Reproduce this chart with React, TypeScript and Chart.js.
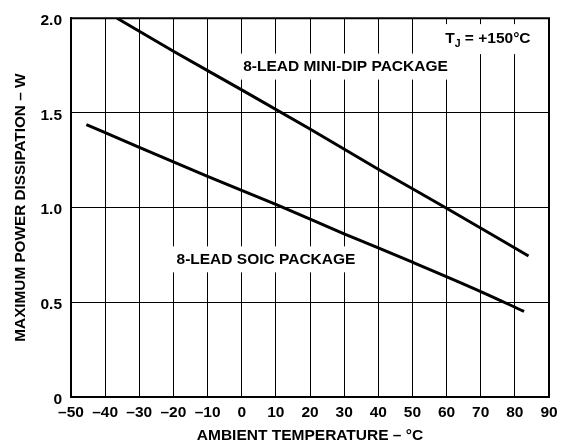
import React, { useEffect, useRef } from "react";
import { Chart, registerables } from "chart.js";

Chart.register(...registerables);

const X_MIN = -50;
const X_MAX = 90;
const X_STEP = 10;
const Y_MIN = 0;
const Y_MAX = 2;
const Y_STEP = 0.5;

const miniDipTemp = [-36.5, -20, 0, 20, 40, 60, 84];
const miniDipPower = [2.0, 1.826, 1.622, 1.415, 1.203, 0.997, 0.745];

const soicTemp = [-45.5, -30, -10, 10, 30, 50, 70, 82.7];
const soicPower = [1.439, 1.318, 1.165, 1.017, 0.862, 0.712, 0.557, 0.452];

const seriesNames = ["8-LEAD MINI-DIP PACKAGE", "8-LEAD SOIC PACKAGE"];
const labelTemps = [30.4, 7.1];
const labelPowers = [1.745, 0.727];

const tjTemp = 72.1;
const tjPower = 1.89;

const xTitle = "AMBIENT TEMPERATURE – °C";
const yTitle = "MAXIMUM POWER DISSIPATION – W";

const FONT = "'Liberation Sans', Arial, Helvetica, sans-serif";

const annotationPlugin = {
  id: "annotations",
  beforeDatasetsDraw(chart: any) {
    const { ctx, chartArea, scales } = chart;
    const xs = scales.x;
    const ys = scales.y;
    ctx.save();
    ctx.strokeStyle = "#000";
    ctx.lineWidth = 2;
    ctx.beginPath();
    ctx.moveTo(chartArea.left, chartArea.top);
    ctx.lineTo(chartArea.right, chartArea.top);
    ctx.lineTo(chartArea.right, chartArea.bottom);
    ctx.stroke();

    ctx.font = `bold 15.5px ${FONT}`;
    ctx.textBaseline = "middle";
    ctx.textAlign = "center";
    for (let i = 0; i < seriesNames.length; i++) {
      const px = xs.getPixelForValue(labelTemps[i]);
      const py = ys.getPixelForValue(labelPowers[i]);
      const w = ctx.measureText(seriesNames[i]).width;
      ctx.fillStyle = "#fff";
      ctx.fillRect(px - w / 2 - 4, py - 13, w + 8, 26);
      ctx.fillStyle = "#000";
      ctx.fillText(seriesNames[i], px, py);
    }

    const tx = xs.getPixelForValue(tjTemp);
    const ty = ys.getPixelForValue(tjPower);
    const mainFont = `bold 15.5px ${FONT}`;
    const subFont = `bold 10.5px ${FONT}`;
    ctx.font = mainFont;
    const wT = ctx.measureText("T").width;
    const rest = " = +150°C";
    const wRest = ctx.measureText(rest).width;
    ctx.font = subFont;
    const wJ = ctx.measureText("J").width;
    const total = wT + wJ + wRest;
    ctx.fillStyle = "#fff";
    ctx.fillRect(tx - total / 2 - 4, ty - 15, total + 8, 30);
    ctx.fillStyle = "#000";
    ctx.textAlign = "left";
    let cx = tx - total / 2;
    ctx.font = mainFont;
    ctx.fillText("T", cx, ty);
    cx += wT;
    ctx.font = subFont;
    ctx.fillText("J", cx, ty + 5);
    cx += wJ;
    ctx.font = mainFont;
    ctx.fillText(rest, cx, ty);
    ctx.restore();
  },
};

export default function App() {
  const ref = useRef<HTMLCanvasElement>(null);
  useEffect(() => {
    if (!ref.current) return;
    Chart.defaults.font.family = FONT;
    Chart.defaults.color = "#000";
    const chart = new Chart(ref.current, {
      type: "line",
      data: {
        datasets: [
          {
            label: seriesNames[0],
            data: miniDipTemp.map((t, i) => ({ x: t, y: miniDipPower[i] })),
            borderColor: "#000",
            borderWidth: 3,
            pointRadius: 0,
            cubicInterpolationMode: "monotone",
            fill: false,
          },
          {
            label: seriesNames[1],
            data: soicTemp.map((t, i) => ({ x: t, y: soicPower[i] })),
            borderColor: "#000",
            borderWidth: 3,
            pointRadius: 0,
            cubicInterpolationMode: "monotone",
            fill: false,
          },
        ],
      },
      options: {
        animation: false,
        responsive: false,
        layout: { padding: { left: 0, right: 17, top: 16, bottom: 0 } },
        plugins: { legend: { display: false }, tooltip: { enabled: false } },
        scales: {
          x: {
            type: "linear",
            min: X_MIN,
            max: X_MAX,
            afterFit: (s: any) => {
              s.height = 46;
            },
            ticks: {
              stepSize: X_STEP,
              padding: 6,
              maxRotation: 0,
              autoSkip: false,
              font: { size: 15.5, weight: "bold" },
              callback: (v: any) => (v < 0 ? "–" + Math.abs(v) : String(v)),
            },
            grid: { color: "#000", lineWidth: 1, drawTicks: false },
            border: { display: true, color: "#000", width: 2 },
            title: {
              display: true,
              text: xTitle,
              font: { size: 15.5, weight: "bold", lineHeight: 1 },
              padding: { top: 0, bottom: 0 },
            },
          },
          y: {
            type: "linear",
            min: Y_MIN,
            max: Y_MAX,
            afterFit: (s: any) => {
              s.width = 71;
            },
            ticks: {
              stepSize: Y_STEP,
              padding: 9,
              labelOffset: 2.5,
              font: { size: 15.5, weight: "bold" },
              callback: (v: any) => (v === 0 ? "0" : Number(v).toFixed(1)),
            },
            grid: { color: "#000", lineWidth: 1, drawTicks: false },
            border: { display: true, color: "#000", width: 2 },
            title: {
              display: true,
              text: yTitle,
              font: { size: 15.3, weight: "bold", lineHeight: 1 },
              padding: { top: 13.3, bottom: 0 },
            },
          },
        },
      },
      plugins: [annotationPlugin],
    } as any);
    return () => chart.destroy();
  }, []);
  return (
    <div style={{ position: "absolute", left: 0, top: 0, width: 566, height: 443 }}>
      <canvas ref={ref} width={566} height={443} style={{ display: "block" }} />
    </div>
  );
}
